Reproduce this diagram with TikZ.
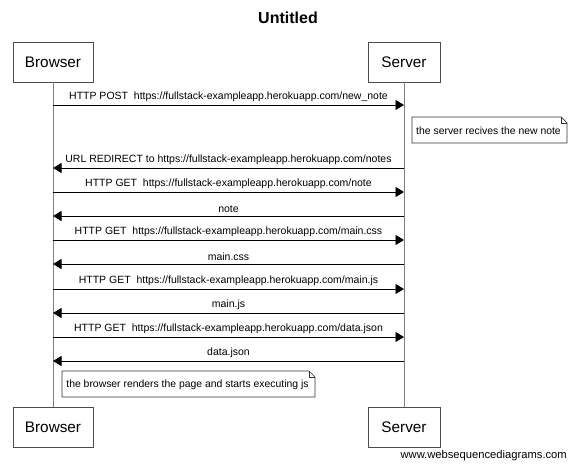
\documentclass[tikz,border=0pt]{standalone}
\usepackage{fontspec}
\setmainfont{Liberation Sans}
\usetikzlibrary{arrows.meta,calc}
\begin{document}
\begin{tikzpicture}[x=1pt,y=-1pt,
  actor/.style={draw=black!70,fill=white,line width=0.8pt,minimum height=40pt,inner sep=0pt,font=\fontsize{15.3}{18}\selectfont},
  life/.style={draw=black!50,line width=0.8pt},
  msg/.style={draw=black,line width=0.9pt,-{Triangle[length=8.5pt,width=10pt]}},
  lbl/.style={font=\fontsize{10.5}{12}\selectfont,inner sep=0pt,anchor=base},
  notetext/.style={font=\fontsize{10.4}{12}\selectfont,inner sep=0pt},
  notebox/.style={draw=black!80,fill=white,line width=0.7pt}]
\path[use as bounding box,fill=white] (0,0) rectangle (575,465);
\node[font=\bfseries\fontsize{16}{19}\selectfont] (title) at (288,18) {Untitled};
% actors
\node[actor,minimum width=80pt] (bt) at (53,62) {Browser};
\node[actor,minimum width=72pt] (st) at (404,62) {Server};
\node[actor,minimum width=80pt] (bb) at (53,427) {Browser};
\node[actor,minimum width=72pt] (sb) at (404,427) {Server};
\draw[life] (bt.south) -- (bb.north);
\draw[life] (st.south) -- (sb.north);
% message coordinates
\foreach \i/\y in {1/105,2/168,3/192,4/216,5/240,6/264,7/289,8/313,9/337,10/361}{
  \coordinate (b\i) at (53,\y);
  \coordinate (s\i) at (404,\y);
}
\draw[msg] (b1) -- node[lbl,above=2.5pt] (l1) {HTTP POST~ https://fullstack-exampleapp.herokuapp.com/new\_note} (s1);
\draw[msg] (s2) -- node[lbl,above=2.5pt] (l2) {URL REDIRECT to https://fullstack-exampleapp.herokuapp.com/notes} (b2);
\draw[msg] (b3) -- node[lbl,above=2.5pt] (l3) {HTTP GET~ https://fullstack-exampleapp.herokuapp.com/note} (s3);
\draw[msg] (s4) -- node[lbl,above=2.5pt] (l4) {note} (b4);
\draw[msg] (b5) -- node[lbl,above=2.5pt] (l5) {HTTP GET~ https://fullstack-exampleapp.herokuapp.com/main.css} (s5);
\draw[msg] (s6) -- node[lbl,above=2.5pt] (l6) {main.css} (b6);
\draw[msg] (b7) -- node[lbl,above=2.5pt] (l7) {HTTP GET~ https://fullstack-exampleapp.herokuapp.com/main.js} (s7);
\draw[msg] (s8) -- node[lbl,above=2.5pt] (l8) {main.js} (b8);
\draw[msg] (b9) -- node[lbl,above=2.5pt] (l9) {HTTP GET~ https://fullstack-exampleapp.herokuapp.com/data.json} (s9);
\draw[msg] (s10) -- node[lbl,above=2.5pt] (l10) {data.json} (b10);
% notes
\coordinate (n1a) at (412,117);
\coordinate (n1b) at (567,143);
\draw[notebox] (n1a) -- ($(n1b|-n1a)+(-6,0)$) -- ($(n1b|-n1a)+(0,6)$) -- (n1b) -- (n1a|-n1b) -- cycle;
\draw[notebox,fill=none] ($(n1b|-n1a)+(-6,0)$) |- ($(n1b|-n1a)+(0,6)$);
\node[notetext] (n1) at ($(n1a)!0.5!(n1b)+(-1,1)$) {the server recives the new note};
\coordinate (n2a) at (62,371);
\coordinate (n2b) at (315,397);
\draw[notebox] (n2a) -- ($(n2b|-n2a)+(-6,0)$) -- ($(n2b|-n2a)+(0,6)$) -- (n2b) -- (n2a|-n2b) -- cycle;
\draw[notebox,fill=none] ($(n2b|-n2a)+(-6,0)$) |- ($(n2b|-n2a)+(0,6)$);
\node[notetext] (n2) at ($(n2a)!0.5!(n2b)+(-1,1)$) {the browser renders the page and starts executing js};
% footer
\node[font=\fontsize{11.2}{13}\selectfont,anchor=base east,inner sep=0pt] (foot) at (567,458) {www.websequencediagrams.com};
\end{tikzpicture}
\end{document}
